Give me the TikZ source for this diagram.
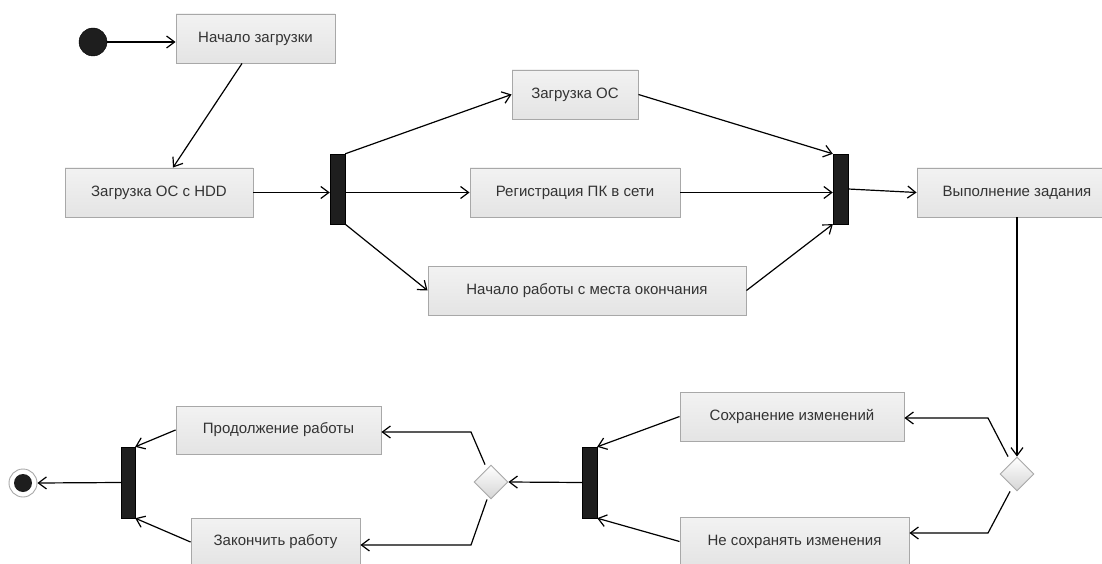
\documentclass[tikz,border=0pt]{standalone}
\usepackage{fontspec}
\setmainfont{Liberation Sans}
\usetikzlibrary{arrows.meta,shapes.geometric}
\definecolor{boxborder}{HTML}{A8A8A8}
\definecolor{txt}{HTML}{333333}
\definecolor{barfill}{HTML}{1E1E1E}
\definecolor{boxtop}{HTML}{F2F2F2}
\definecolor{boxmid}{HTML}{F8F8F8}
\definecolor{boxbot}{HTML}{E4E4E4}
\begin{document}
\begin{tikzpicture}[x=1pt,y=-1pt,
  act/.style={draw=boxborder, line width=0.9pt, top color=boxtop, middle color=boxmid, bottom color=boxbot,
    inner sep=0pt, minimum height=49pt, font=\fontsize{15}{17}\selectfont, text=txt},
  bar/.style={draw=black, fill=barfill, minimum width=15pt, minimum height=70pt, inner sep=0pt},
  dec/.style={diamond, draw=boxborder, line width=0.9pt, top color=white, bottom color=boxbot!85!gray,
    minimum width=34pt, minimum height=34pt, inner sep=0pt},
  flow/.style={draw=black, line width=1.2pt, -{Straight Barb[length=8pt,width=12pt,line width=1.2pt]}}
]
\clip (0,0) rectangle (1102,564);
\fill[white] (0,0) rectangle (1102,564);

% initial and final nodes
\node[circle, draw=black, fill=barfill, minimum size=28pt, inner sep=0pt] (start) at (93,42) {};
\node[circle, draw=boxborder, line width=0.9pt, fill=white, minimum size=28pt, inner sep=0pt] (end) at (23,483) {};
\fill[barfill] (end.center) circle (9pt);

% actions
\node[act, minimum width=159pt] (b1) at (255.5,38.5) {Начало загрузки};
\node[act, minimum width=188pt] (b2) at (159,192.5) {Загрузка ОС с HDD};
\node[act, minimum width=126pt] (b3) at (575,94.5) {Загрузка ОС};
\node[act, minimum width=210pt] (b4) at (575,192.5) {Регистрация ПК в сети};
\node[act, minimum width=318pt] (b5) at (587,290.5) {Начало работы с места окончания};
\node[act, minimum width=200pt] (b6) at (1017,192.5) {Выполнение задания};
\node[act, minimum width=224pt] (b7) at (792,416.5) {Сохранение изменений};
\node[act, minimum width=229pt] (b8) at (794.5,541.5) {Не сохранять изменения};
\node[act, minimum width=205pt, minimum height=48pt] (b9) at (278.5,430) {Продолжение работы};
\node[act, minimum width=169pt, minimum height=48pt] (b10) at (275.5,542) {Закончить работу};

% fork / join bars
\node[bar] (f1) at (337.5,189) {};
\node[bar] (f2) at (840.5,189) {};
\node[bar, minimum height=71pt] (f3) at (589.5,482.5) {};
\node[bar, minimum width=14pt, minimum height=71pt] (f4) at (128,482.5) {};

% decisions
\node[dec] (d1) at (491,482) {};
\node[dec] (d2) at (1017,474) {};

% bend points
\coordinate (k1) at (988,418);
\coordinate (k2) at (988,533);
\coordinate (k3) at (471,432);
\coordinate (k4) at (471,545);

% connectors
\draw[flow] (start.east) -- (start.east -| b1.west);
\draw[flow] ([xshift=-13.5pt]b1.south) -- ([xshift=14pt]b2.north);
\draw[flow] (b2.east) -- (b2.east -| f1.west);
\draw[flow] (f1.north east) -- (b3.west);
\draw[flow] (b4.west -| f1.east) -- (b4.west);
\draw[flow] (f1.south east) -- (b5.west);
\draw[flow] (b3.east) -- (f2.north west);
\draw[flow] (b4.east) -- (b4.east -| f2.west);
\draw[flow] (b5.east) -- (f2.south west);
\draw[flow] (f2.east) -- (b6.west);
\draw[flow] (b6.south) -- (d2.north);
\draw[flow] ([xshift=-9pt]d2.north) -- (k1) -- (b7.east |- k1);
\draw[flow] ([xshift=-7pt]d2.south) -- (k2) -- (b8.east |- k2);
\draw[flow] (b7.west) -- (f3.north east);
\draw[flow] (b8.west) -- (f3.south east);
\draw[flow] (f3.west) -- (d1.east);
\draw[flow] ([xshift=-6pt]d1.north) -- (k3) -- (b9.east |- k3);
\draw[flow] ([xshift=-4pt]d1.south) -- (k4) -- (b10.east |- k4);
\draw[flow] (b9.west) -- (f4.north east);
\draw[flow] (b10.west) -- (f4.south east);
\draw[flow] (f4.west) -- (end.east);
\end{tikzpicture}
\end{document}
